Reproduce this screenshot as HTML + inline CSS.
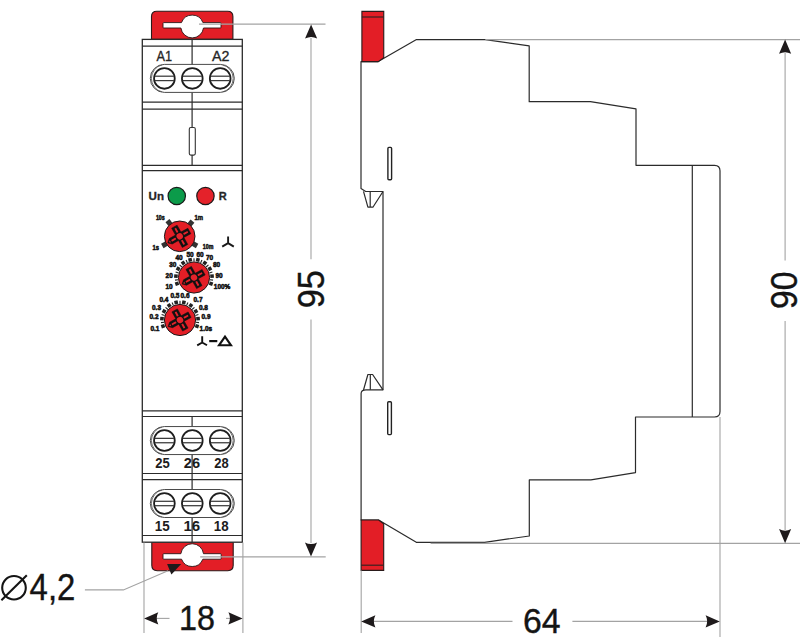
<!DOCTYPE html>
<html><head><meta charset="utf-8">
<style>
html,body{margin:0;padding:0;background:#fff;width:800px;height:637px;overflow:hidden}
svg{display:block}
text{font-family:"Liberation Sans",sans-serif}
</style></head>
<body>
<svg width="800" height="637" viewBox="0 0 800 637">


<!-- top red tab -->
<path d="M151.5,39.4 V16.5 Q151.5,11.2 156.8,11.2 H227.6 Q232.9,11.2 232.9,16.5 V39.4 Z" fill="#e31e26" stroke="#2a1a1a" stroke-width="1.1"/>
<path d="M163.8,22.6 H181.49 A11.4 11.4 0 0 1 202.91 22.6 H220.2 Q221,22.6 221,23.400000000000002 V27.2 Q221,28.0 220.2,28.0 H203.50 A11.4 11.4 0 0 1 180.90 28.0 H163.8 Q163,28.0 163,27.2 V23.400000000000002 Q163,22.6 163.8,22.6 Z" fill="#fff" stroke="#2a1515" stroke-width="0.9"/>
<!-- bottom red tab -->
<path d="M151.8,542.2 V565.3 Q151.8,570.7 157.2,570.7 H227.8 Q233.2,570.7 233.2,565.3 V542.2 Z" fill="#e31e26" stroke="#2a1a1a" stroke-width="1.1"/>
<path d="M163.8,553.7 H180.89 A11.4 11.4 0 0 1 203.51 553.7 H220.39999999999998 Q221.2,553.7 221.2,554.5 V558.4000000000001 Q221.2,559.2 220.39999999999998,559.2 H202.84 A11.4 11.4 0 0 1 181.56 559.2 H163.8 Q163,559.2 163,558.4000000000001 V554.5 Q163,553.7 163.8,553.7 Z" fill="#fff" stroke="#2a1515" stroke-width="0.9"/>
<!-- body -->
<rect x="142.3" y="39.4" width="100" height="502.8" fill="#fff" stroke="#2b2b2b" stroke-width="1.3"/>
<g stroke="#2b2b2b" stroke-width="1.2">

<line x1="142.3" y1="46.2" x2="242.3" y2="46.2"/>
<line x1="142.3" y1="102.2" x2="242.3" y2="102.2"/>
<line x1="142.3" y1="109.1" x2="242.3" y2="109.1"/>
<line x1="142.3" y1="165.3" x2="242.3" y2="165.3"/>
<line x1="142.3" y1="170.6" x2="242.3" y2="170.6"/>
<line x1="142.3" y1="410.8" x2="242.3" y2="410.8"/>
<line x1="142.3" y1="416.5" x2="242.3" y2="416.5"/>
<line x1="142.3" y1="473.5" x2="242.3" y2="473.5"/>
<line x1="142.3" y1="479.6" x2="242.3" y2="479.6"/>
<line x1="142.3" y1="535.5" x2="242.3" y2="535.5"/>
<line x1="192.1" y1="39.4" x2="192.1" y2="65"/>
<line x1="192.1" y1="92" x2="192.1" y2="127.5"/>
<line x1="192.1" y1="155.1" x2="192.1" y2="165.3"/>
<line x1="192.1" y1="416.5" x2="192.1" y2="427"/>
<line x1="192.1" y1="454" x2="192.1" y2="490"/>
<line x1="192.1" y1="517" x2="192.1" y2="542.2"/>
</g>
<rect x="189.3" y="127.5" width="6" height="27.6" rx="1.5" fill="#fff" stroke="#333" stroke-width="1.1"/>
<g transform="translate(192.3,78.4)">
    <rect x="-42" y="-14" width="84" height="28" rx="14" fill="#fff" stroke="#4a4a4a" stroke-width="1"/>
    <path d="M-30.3,-13.5 A13.9 13.9 0 0 0 -30.3 13.5" fill="none" stroke="#555" stroke-width="0.85"/>
    <path d="M30.3,-13.5 A13.9 13.9 0 0 1 30.3 13.5" fill="none" stroke="#555" stroke-width="0.85"/>
    <g transform="translate(-27.9,0)">
    <circle cx="0" cy="0" r="10.35" fill="#fff" stroke="#1e1e1e" stroke-width="1.8"/>
    <line x1="-9.5" y1="-2.2" x2="9.5" y2="-2.2" stroke="#3a3a3a" stroke-width="1.25"/>
    <line x1="-9.5" y1="2.2" x2="9.5" y2="2.2" stroke="#3a3a3a" stroke-width="1.25"/>
  </g>
    <g transform="translate(0,0)">
    <circle cx="0" cy="0" r="10.35" fill="#fff" stroke="#1e1e1e" stroke-width="1.8"/>
    <line x1="-9.5" y1="-2.2" x2="9.5" y2="-2.2" stroke="#3a3a3a" stroke-width="1.25"/>
    <line x1="-9.5" y1="2.2" x2="9.5" y2="2.2" stroke="#3a3a3a" stroke-width="1.25"/>
  </g>
    <g transform="translate(27.9,0)">
    <circle cx="0" cy="0" r="10.35" fill="#fff" stroke="#1e1e1e" stroke-width="1.8"/>
    <line x1="-9.5" y1="-2.2" x2="9.5" y2="-2.2" stroke="#3a3a3a" stroke-width="1.25"/>
    <line x1="-9.5" y1="2.2" x2="9.5" y2="2.2" stroke="#3a3a3a" stroke-width="1.25"/>
  </g>
  </g><g transform="translate(192.3,440.55)">
    <rect x="-42" y="-14" width="84" height="28" rx="14" fill="#fff" stroke="#4a4a4a" stroke-width="1"/>
    <path d="M-30.3,-13.5 A13.9 13.9 0 0 0 -30.3 13.5" fill="none" stroke="#555" stroke-width="0.85"/>
    <path d="M30.3,-13.5 A13.9 13.9 0 0 1 30.3 13.5" fill="none" stroke="#555" stroke-width="0.85"/>
    <g transform="translate(-27.9,0)">
    <circle cx="0" cy="0" r="10.35" fill="#fff" stroke="#1e1e1e" stroke-width="1.8"/>
    <line x1="-9.5" y1="-2.2" x2="9.5" y2="-2.2" stroke="#3a3a3a" stroke-width="1.25"/>
    <line x1="-9.5" y1="2.2" x2="9.5" y2="2.2" stroke="#3a3a3a" stroke-width="1.25"/>
  </g>
    <g transform="translate(0,0)">
    <circle cx="0" cy="0" r="10.35" fill="#fff" stroke="#1e1e1e" stroke-width="1.8"/>
    <line x1="-9.5" y1="-2.2" x2="9.5" y2="-2.2" stroke="#3a3a3a" stroke-width="1.25"/>
    <line x1="-9.5" y1="2.2" x2="9.5" y2="2.2" stroke="#3a3a3a" stroke-width="1.25"/>
  </g>
    <g transform="translate(27.9,0)">
    <circle cx="0" cy="0" r="10.35" fill="#fff" stroke="#1e1e1e" stroke-width="1.8"/>
    <line x1="-9.5" y1="-2.2" x2="9.5" y2="-2.2" stroke="#3a3a3a" stroke-width="1.25"/>
    <line x1="-9.5" y1="2.2" x2="9.5" y2="2.2" stroke="#3a3a3a" stroke-width="1.25"/>
  </g>
  </g><g transform="translate(192.3,503.5)">
    <rect x="-42" y="-14" width="84" height="28" rx="14" fill="#fff" stroke="#4a4a4a" stroke-width="1"/>
    <path d="M-30.3,-13.5 A13.9 13.9 0 0 0 -30.3 13.5" fill="none" stroke="#555" stroke-width="0.85"/>
    <path d="M30.3,-13.5 A13.9 13.9 0 0 1 30.3 13.5" fill="none" stroke="#555" stroke-width="0.85"/>
    <g transform="translate(-27.9,0)">
    <circle cx="0" cy="0" r="10.35" fill="#fff" stroke="#1e1e1e" stroke-width="1.8"/>
    <line x1="-9.5" y1="-2.2" x2="9.5" y2="-2.2" stroke="#3a3a3a" stroke-width="1.25"/>
    <line x1="-9.5" y1="2.2" x2="9.5" y2="2.2" stroke="#3a3a3a" stroke-width="1.25"/>
  </g>
    <g transform="translate(0,0)">
    <circle cx="0" cy="0" r="10.35" fill="#fff" stroke="#1e1e1e" stroke-width="1.8"/>
    <line x1="-9.5" y1="-2.2" x2="9.5" y2="-2.2" stroke="#3a3a3a" stroke-width="1.25"/>
    <line x1="-9.5" y1="2.2" x2="9.5" y2="2.2" stroke="#3a3a3a" stroke-width="1.25"/>
  </g>
    <g transform="translate(27.9,0)">
    <circle cx="0" cy="0" r="10.35" fill="#fff" stroke="#1e1e1e" stroke-width="1.8"/>
    <line x1="-9.5" y1="-2.2" x2="9.5" y2="-2.2" stroke="#3a3a3a" stroke-width="1.25"/>
    <line x1="-9.5" y1="2.2" x2="9.5" y2="2.2" stroke="#3a3a3a" stroke-width="1.25"/>
  </g>
  </g>
<text transform="translate(156.53,61.15) scale(0.833,1)" font-size="15.26" fill="#262626" stroke="#262626" stroke-width="0.35">A1</text>
<text transform="translate(212.12,61.15) scale(0.948,1)" font-size="15.04" fill="#262626" stroke="#262626" stroke-width="0.35">A2</text>
<text transform="translate(155.20,468.31) scale(0.933,1)" font-size="13.98" font-weight="bold" fill="#1c1c1c">25</text>
<text transform="translate(183.84,468.31) scale(1.044,1)" font-size="13.98" font-weight="bold" fill="#1c1c1c">26</text>
<text transform="translate(214.20,468.31) scale(0.929,1)" font-size="13.98" font-weight="bold" fill="#1c1c1c">28</text>
<text transform="translate(154.81,531.41) scale(0.941,1)" font-size="14.26" font-weight="bold" fill="#1c1c1c">15</text>
<text transform="translate(183.40,531.41) scale(1.075,1)" font-size="14.05" font-weight="bold" fill="#1c1c1c">16</text>
<text transform="translate(213.81,531.41) scale(0.950,1)" font-size="14.05" font-weight="bold" fill="#1c1c1c">18</text>
<text transform="translate(148.56,199.75) scale(1.076,1)" font-size="10.75" font-weight="bold" fill="#262626" stroke="#262626" stroke-width="0.3">Un</text>
<text transform="translate(218.81,199.85) scale(1.012,1)" font-size="10.90" font-weight="bold" fill="#262626" stroke="#262626" stroke-width="0.3">R</text>
<circle cx="176.75" cy="196" r="8.7" fill="#0b9b4a" stroke="#1a1a1a" stroke-width="1.2"/>
<circle cx="205.45" cy="196" r="8.7" fill="#e4222a" stroke="#1a1a1a" stroke-width="1.2"/>
<g fill="#333">
<rect x="-2.6" y="-2.5" width="5.2" height="5" transform="translate(179.7,236.3) rotate(-128) translate(17.3,0)"/>
<rect x="-2.6" y="-2.5" width="5.2" height="5" transform="translate(179.7,236.3) rotate(-50) translate(17.3,0)"/>
<rect x="-2.6" y="-2.5" width="5.2" height="5" transform="translate(179.7,236.3) rotate(29) translate(17.3,0)"/>
<rect x="-2.6" y="-2.5" width="5.2" height="5" transform="translate(179.7,236.3) rotate(151) translate(17.3,0)"/>
</g>
<circle cx="179.7" cy="236.3" r="15.3" fill="#e31e26" stroke="#1a1a1a" stroke-width="1"/>
<g transform="translate(179.7,236.3)">
    <g transform="rotate(-29)">
      <path d="M-3.1,-11 H3.1 V-3.1 H11 V3.1 H3.1 V11 H-3.1 V3.1 H-10.2 L-13.6,0 L-10.2,-3.1 H-3.1 Z" fill="#111" stroke="#111" stroke-width="0.5" stroke-linejoin="round"/>
      <circle r="3.2" fill="#e5232b"/>
      <rect x="4.4" y="-0.95" width="4.9" height="1.9" rx="0.5" fill="#e5232b"/>
      <rect x="-9.3" y="-0.95" width="4.9" height="1.9" rx="0.5" fill="#e5232b"/>
      <rect x="-0.95" y="4.4" width="1.9" height="4.9" rx="0.5" fill="#e5232b"/>
      <rect x="-0.95" y="-9.3" width="1.9" height="4.9" rx="0.5" fill="#e5232b"/>
      <path d="M-10.6,-1.3 L-12.3,0 L-10.6,1.3 Z" fill="#e5232b"/>
    </g>
  </g>
<g>
<text transform="translate(155.93,219.93) scale(0.780,1)" font-size="6.78" font-weight="bold" fill="#111" stroke="#111" stroke-width="0.5">10s</text>
<text transform="translate(194.41,220.00) scale(0.850,1)" font-size="6.98" font-weight="bold" fill="#111" stroke="#111" stroke-width="0.5">1m</text>
<text transform="translate(152.58,249.93) scale(0.850,1)" font-size="6.88" font-weight="bold" fill="#111" stroke="#111" stroke-width="0.5">1s</text>
<text transform="translate(202.81,248.93) scale(0.780,1)" font-size="6.78" font-weight="bold" fill="#111" stroke="#111" stroke-width="0.5">10m</text>
</g>
<path d="M228.1,236.6 V243.1 L222.2,246.6 M228.1,243.1 L233.8,246.6" fill="none" stroke="#1a1a1a" stroke-width="1.9"/>
<g fill="#222"><rect x="-1.8" y="-1.8" width="3.6" height="3.6" transform="translate(194,277.5) rotate(160.0) translate(18.1,0)"/>
<rect x="-1.6" y="-0.55" width="3.2" height="1.1" transform="translate(194,277.5) rotate(172.2) translate(17.6,0)"/>
<rect x="-1.8" y="-1.8" width="3.6" height="3.6" transform="translate(194,277.5) rotate(184.4) translate(18.1,0)"/>
<rect x="-1.6" y="-0.55" width="3.2" height="1.1" transform="translate(194,277.5) rotate(196.7) translate(17.6,0)"/>
<rect x="-1.8" y="-1.8" width="3.6" height="3.6" transform="translate(194,277.5) rotate(208.9) translate(18.1,0)"/>
<rect x="-1.6" y="-0.55" width="3.2" height="1.1" transform="translate(194,277.5) rotate(221.1) translate(17.6,0)"/>
<rect x="-1.8" y="-1.8" width="3.6" height="3.6" transform="translate(194,277.5) rotate(233.3) translate(18.1,0)"/>
<rect x="-1.6" y="-0.55" width="3.2" height="1.1" transform="translate(194,277.5) rotate(245.6) translate(17.6,0)"/>
<rect x="-1.8" y="-1.8" width="3.6" height="3.6" transform="translate(194,277.5) rotate(257.8) translate(18.1,0)"/>
<rect x="-1.6" y="-0.55" width="3.2" height="1.1" transform="translate(194,277.5) rotate(270.0) translate(17.6,0)"/>
<rect x="-1.8" y="-1.8" width="3.6" height="3.6" transform="translate(194,277.5) rotate(282.2) translate(18.1,0)"/>
<rect x="-1.6" y="-0.55" width="3.2" height="1.1" transform="translate(194,277.5) rotate(294.4) translate(17.6,0)"/>
<rect x="-1.8" y="-1.8" width="3.6" height="3.6" transform="translate(194,277.5) rotate(306.7) translate(18.1,0)"/>
<rect x="-1.6" y="-0.55" width="3.2" height="1.1" transform="translate(194,277.5) rotate(318.9) translate(17.6,0)"/>
<rect x="-1.8" y="-1.8" width="3.6" height="3.6" transform="translate(194,277.5) rotate(331.1) translate(18.1,0)"/>
<rect x="-1.6" y="-0.55" width="3.2" height="1.1" transform="translate(194,277.5) rotate(343.3) translate(17.6,0)"/>
<rect x="-1.8" y="-1.8" width="3.6" height="3.6" transform="translate(194,277.5) rotate(355.6) translate(18.1,0)"/>
<rect x="-1.6" y="-0.55" width="3.2" height="1.1" transform="translate(194,277.5) rotate(367.8) translate(17.6,0)"/>
<rect x="-1.8" y="-1.8" width="3.6" height="3.6" transform="translate(194,277.5) rotate(380.0) translate(18.1,0)"/></g>
<circle cx="194" cy="277.5" r="15.6" fill="#e31e26" stroke="#1a1a1a" stroke-width="1"/>
<g transform="translate(194,277.5)">
    <g transform="rotate(-29)">
      <path d="M-3.1,-11 H3.1 V-3.1 H11 V3.1 H3.1 V11 H-3.1 V3.1 H-10.2 L-13.6,0 L-10.2,-3.1 H-3.1 Z" fill="#111" stroke="#111" stroke-width="0.5" stroke-linejoin="round"/>
      <circle r="3.2" fill="#e5232b"/>
      <rect x="4.4" y="-0.95" width="4.9" height="1.9" rx="0.5" fill="#e5232b"/>
      <rect x="-9.3" y="-0.95" width="4.9" height="1.9" rx="0.5" fill="#e5232b"/>
      <rect x="-0.95" y="4.4" width="1.9" height="4.9" rx="0.5" fill="#e5232b"/>
      <rect x="-0.95" y="-9.3" width="1.9" height="4.9" rx="0.5" fill="#e5232b"/>
      <path d="M-10.6,-1.3 L-12.3,0 L-10.6,1.3 Z" fill="#e5232b"/>
    </g>
  </g>
<text transform="translate(165.52,288.92) scale(0.820,1)" font-size="7.91" font-weight="bold" fill="#111" stroke="#111" stroke-width="0.6">10</text>
<text transform="translate(165.61,277.92) scale(0.820,1)" font-size="7.91" font-weight="bold" fill="#111" stroke="#111" stroke-width="0.6">20</text>
<text transform="translate(169.16,266.91) scale(0.820,1)" font-size="7.89" font-weight="bold" fill="#111" stroke="#111" stroke-width="0.6">30</text>
<text transform="translate(175.48,259.92) scale(0.820,1)" font-size="7.91" font-weight="bold" fill="#111" stroke="#111" stroke-width="0.6">40</text>
<text transform="translate(186.43,256.92) scale(0.820,1)" font-size="7.91" font-weight="bold" fill="#111" stroke="#111" stroke-width="0.6">50</text>
<text transform="translate(196.41,256.92) scale(0.820,1)" font-size="7.91" font-weight="bold" fill="#111" stroke="#111" stroke-width="0.6">60</text>
<text transform="translate(205.89,259.92) scale(0.820,1)" font-size="7.91" font-weight="bold" fill="#111" stroke="#111" stroke-width="0.6">70</text>
<text transform="translate(212.92,266.92) scale(0.820,1)" font-size="7.91" font-weight="bold" fill="#111" stroke="#111" stroke-width="0.6">80</text>
<text transform="translate(215.41,277.92) scale(0.820,1)" font-size="7.91" font-weight="bold" fill="#111" stroke="#111" stroke-width="0.6">90</text>
<text transform="translate(213.79,288.92) scale(0.820,1)" font-size="7.91" font-weight="bold" fill="#111" stroke="#111" stroke-width="0.6">100%</text>
<g fill="#222"><rect x="-1.8" y="-1.8" width="3.6" height="3.6" transform="translate(180,320) rotate(160.0) translate(18.1,0)"/>
<rect x="-1.6" y="-0.55" width="3.2" height="1.1" transform="translate(180,320) rotate(172.2) translate(17.6,0)"/>
<rect x="-1.8" y="-1.8" width="3.6" height="3.6" transform="translate(180,320) rotate(184.4) translate(18.1,0)"/>
<rect x="-1.6" y="-0.55" width="3.2" height="1.1" transform="translate(180,320) rotate(196.7) translate(17.6,0)"/>
<rect x="-1.8" y="-1.8" width="3.6" height="3.6" transform="translate(180,320) rotate(208.9) translate(18.1,0)"/>
<rect x="-1.6" y="-0.55" width="3.2" height="1.1" transform="translate(180,320) rotate(221.1) translate(17.6,0)"/>
<rect x="-1.8" y="-1.8" width="3.6" height="3.6" transform="translate(180,320) rotate(233.3) translate(18.1,0)"/>
<rect x="-1.6" y="-0.55" width="3.2" height="1.1" transform="translate(180,320) rotate(245.6) translate(17.6,0)"/>
<rect x="-1.8" y="-1.8" width="3.6" height="3.6" transform="translate(180,320) rotate(257.8) translate(18.1,0)"/>
<rect x="-1.6" y="-0.55" width="3.2" height="1.1" transform="translate(180,320) rotate(270.0) translate(17.6,0)"/>
<rect x="-1.8" y="-1.8" width="3.6" height="3.6" transform="translate(180,320) rotate(282.2) translate(18.1,0)"/>
<rect x="-1.6" y="-0.55" width="3.2" height="1.1" transform="translate(180,320) rotate(294.4) translate(17.6,0)"/>
<rect x="-1.8" y="-1.8" width="3.6" height="3.6" transform="translate(180,320) rotate(306.7) translate(18.1,0)"/>
<rect x="-1.6" y="-0.55" width="3.2" height="1.1" transform="translate(180,320) rotate(318.9) translate(17.6,0)"/>
<rect x="-1.8" y="-1.8" width="3.6" height="3.6" transform="translate(180,320) rotate(331.1) translate(18.1,0)"/>
<rect x="-1.6" y="-0.55" width="3.2" height="1.1" transform="translate(180,320) rotate(343.3) translate(17.6,0)"/>
<rect x="-1.8" y="-1.8" width="3.6" height="3.6" transform="translate(180,320) rotate(355.6) translate(18.1,0)"/>
<rect x="-1.6" y="-0.55" width="3.2" height="1.1" transform="translate(180,320) rotate(367.8) translate(17.6,0)"/>
<rect x="-1.8" y="-1.8" width="3.6" height="3.6" transform="translate(180,320) rotate(380.0) translate(18.1,0)"/></g>
<circle cx="180" cy="320" r="15.6" fill="#e31e26" stroke="#1a1a1a" stroke-width="1"/>
<g transform="translate(180,320)">
    <g transform="rotate(-29)">
      <path d="M-3.1,-11 H3.1 V-3.1 H11 V3.1 H3.1 V11 H-3.1 V3.1 H-10.2 L-13.6,0 L-10.2,-3.1 H-3.1 Z" fill="#111" stroke="#111" stroke-width="0.5" stroke-linejoin="round"/>
      <circle r="3.2" fill="#e5232b"/>
      <rect x="4.4" y="-0.95" width="4.9" height="1.9" rx="0.5" fill="#e5232b"/>
      <rect x="-9.3" y="-0.95" width="4.9" height="1.9" rx="0.5" fill="#e5232b"/>
      <rect x="-0.95" y="4.4" width="1.9" height="4.9" rx="0.5" fill="#e5232b"/>
      <rect x="-0.95" y="-9.3" width="1.9" height="4.9" rx="0.5" fill="#e5232b"/>
      <path d="M-10.6,-1.3 L-12.3,0 L-10.6,1.3 Z" fill="#e5232b"/>
    </g>
  </g>
<text transform="translate(150.45,330.92) scale(0.820,1)" font-size="7.91" font-weight="bold" fill="#111" stroke="#111" stroke-width="0.6">0.1</text>
<text transform="translate(149.49,319.42) scale(0.820,1)" font-size="7.91" font-weight="bold" fill="#111" stroke="#111" stroke-width="0.6">0.2</text>
<text transform="translate(151.99,309.91) scale(0.820,1)" font-size="7.89" font-weight="bold" fill="#111" stroke="#111" stroke-width="0.6">0.3</text>
<text transform="translate(159.38,302.42) scale(0.820,1)" font-size="7.91" font-weight="bold" fill="#111" stroke="#111" stroke-width="0.6">0.4</text>
<text transform="translate(170.45,297.92) scale(0.820,1)" font-size="7.91" font-weight="bold" fill="#111" stroke="#111" stroke-width="0.6">0.5</text>
<text transform="translate(180.48,297.92) scale(0.820,1)" font-size="7.91" font-weight="bold" fill="#111" stroke="#111" stroke-width="0.6">0.6</text>
<text transform="translate(193.51,302.42) scale(0.820,1)" font-size="7.91" font-weight="bold" fill="#111" stroke="#111" stroke-width="0.6">0.7</text>
<text transform="translate(198.96,309.92) scale(0.820,1)" font-size="7.91" font-weight="bold" fill="#111" stroke="#111" stroke-width="0.6">0.8</text>
<text transform="translate(201.48,319.42) scale(0.820,1)" font-size="7.91" font-weight="bold" fill="#111" stroke="#111" stroke-width="0.6">0.9</text>
<text transform="translate(199.62,330.92) scale(0.820,1)" font-size="7.91" font-weight="bold" fill="#111" stroke="#111" stroke-width="0.6">1.0s</text>
<path d="M202.2,336.3 V342.5 L197.2,345.3 M202.2,342.5 L207,345.3" fill="none" stroke="#111" stroke-width="1.9"/><path d="M209.2,341.1 H217.3" stroke="#111" stroke-width="2.2"/>
<path d="M225,336.6 L231,345.3 H219 Z" fill="none" stroke="#111" stroke-width="2.1"/>
<g fill="none" stroke="#2b2b2b" stroke-width="1.2" stroke-linejoin="round">
  <path d="M361,188.5 V61.6 H378.2 L416.5,39.6 H485.3 L529.2,45.9 V101.7 H590.4 L636,108.9 V165.3 H714.5 Q720,165.3 720,170.8 V411.5 Q720,417 714.5,417 H635.5 V472.6 L590.9,479.9 H529.3 V536 L484.6,542.3 H416.3 L378.6,520 H361.1 V393.6 Q361.1,389.8 366,389.8 H383 V191.5 H365.7 Z"/>
  <line x1="692.3" y1="165.3" x2="692.3" y2="417"/>
  <path d="M363.5,191.3 L367.9,207.2 H372.9 L383,191.5 M370.2,191.5 V207.2"/>
  <path d="M363.5,390 L367.9,374.5 H372.6 L383,389.8 M370.3,374.5 V389.8"/>
</g>
<rect x="387.9" y="147.4" width="3.7" height="32.4" rx="1" fill="#fff" stroke="#222" stroke-width="1.4"/>
<rect x="387.7" y="401.8" width="3.7" height="32.8" rx="1" fill="#fff" stroke="#222" stroke-width="1.4"/>
<path d="M361.9,11.4 H383.75 V57.8 L378.2,61.6 H361.9 Z" fill="#e31e26" stroke="#2a1a1a" stroke-width="1.1"/>
<line x1="361.9" y1="17" x2="383.75" y2="17" stroke="#3a2020" stroke-width="1.2"/>
<path d="M361.1,520 H378.6 L383.7,523.7 V570.4 H361.1 Z" fill="#e31e26" stroke="#2a1a1a" stroke-width="1.1"/>
<line x1="361.1" y1="565.2" x2="383.7" y2="565.2" stroke="#3a2020" stroke-width="1.2"/>

<g stroke="#a3a3a3" stroke-width="1.1" fill="none">
  <line x1="199" y1="24.1" x2="325.5" y2="24.1"/>
  <line x1="200.2" y1="556.9" x2="325.7" y2="556.9"/>
  <line x1="311" y1="38" x2="311" y2="259.2"/>
  <line x1="311" y1="319.6" x2="311" y2="543"/>
  <line x1="485.3" y1="39.6" x2="800" y2="39.6"/>
  <line x1="430.6" y1="543.4" x2="800" y2="543.4"/>
  <line x1="785.1" y1="53" x2="785.1" y2="260.4"/>
  <line x1="785.1" y1="320.9" x2="785.1" y2="530"/>
  <line x1="144" y1="542.5" x2="144" y2="633"/>
  <line x1="242.9" y1="542.5" x2="242.9" y2="633"/>
  <line x1="156" y1="618.4" x2="169.5" y2="618.4"/>
  <line x1="226" y1="618.4" x2="230" y2="618.4"/>
  <line x1="361.2" y1="570.5" x2="361.2" y2="633"/>
  <line x1="720" y1="417" x2="720" y2="637"/>
  <line x1="372" y1="621.4" x2="512.5" y2="621.4"/>
  <line x1="572.4" y1="621.4" x2="708" y2="621.4"/>
  <path d="M84.9,589.9 H123.4 L168,570.8"/>
</g>
<g fill="#1e1a1b"><path d="M311.1,24.4 L317.15000000000003,38.599999999999994 Q311.1,35.39999999999999 305.05,38.599999999999994 Z"/><path d="M311,556.6 L317.05,542.4 Q311,545.6 304.95,542.4 Z"/><path d="M785.1,39.6 L791.15,53.8 Q785.1,50.599999999999994 779.0500000000001,53.8 Z"/><path d="M785.1,543.3 L791.15,529.0999999999999 Q785.1,532.3 779.0500000000001,529.0999999999999 Z"/><path d="M144.1,618.4 L158.29999999999998,612.35 Q155.1,618.4 158.29999999999998,624.4499999999999 Z"/><path d="M242.6,618.4 L228.4,612.35 Q231.6,618.4 228.4,624.4499999999999 Z"/><path d="M361.2,621.4 L375.4,615.35 Q372.2,621.4 375.4,627.4499999999999 Z"/><path d="M719.8,621.4 L705.5999999999999,615.35 Q708.8,621.4 705.5999999999999,627.4499999999999 Z"/><path d="M167.1,563.9 H181.2 L171.4,574.6 Z"/>
</g>

<text transform="translate(178.99,630.21) scale(0.942,1)" font-size="34.32" fill="#141414" stroke="#141414" stroke-width="0.4">18</text>
<text transform="translate(523.03,633.21) scale(0.959,1)" font-size="35.24" fill="#141414" stroke="#141414" stroke-width="0.4">64</text>
<text transform="translate(29.60,600.46) scale(0.897,1)" font-size="36.68" fill="#141414" stroke="#141414" stroke-width="0.4">4,2</text>
<text transform="translate(323.80,308.26) rotate(-90) scale(0.951,1)" font-size="36.16" fill="#141414" stroke="#141414" stroke-width="0.4">95</text>
<text transform="translate(797.30,309.03) rotate(-90) scale(0.932,1)" font-size="36.16" fill="#141414" stroke="#141414" stroke-width="0.4">90</text>
<g fill="none" stroke="#141414" stroke-width="2.1">
  <ellipse cx="14" cy="587.75" rx="11.8" ry="11.8"/>
  <line x1="1.4" y1="600.2" x2="26.8" y2="575.2"/>
</g>
</svg>
</body></html>
